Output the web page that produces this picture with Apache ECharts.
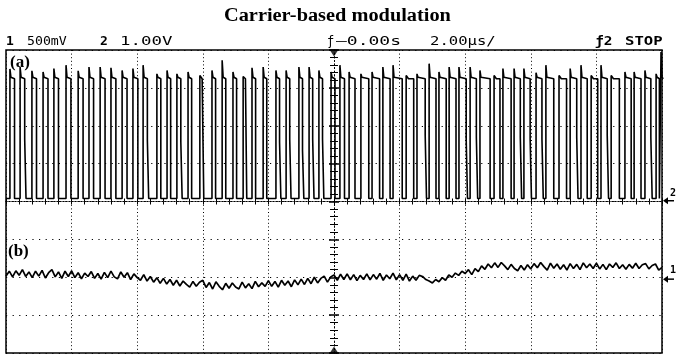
<!DOCTYPE html>
<html><head><meta charset="utf-8">
<script src="https://cdn.jsdelivr.net/npm/echarts@6/dist/echarts.min.js"></script>
<style>html,body{margin:0;padding:0;background:#fff}#c{width:676px;height:360px}</style>
</head><body><div id="c"></div>
<script>
// ---------- data ----------
const chartTitle = 'Carrier-based modulation';
const xRange = [-10, 10];      // time, µs (2 µs/div, 10 div)
const yRange = [-4, 4];        // divisions
const xStep = 2, yStep = 1;

// trace (a): PWM pulse train
const highLevel = 3.24, lowLevel = 0.08;
const riseT = [-9.88,-9.57,-9.21,-8.87,-8.54,-8.17,-7.80,-7.47,-7.13,-6.80,-6.46,-6.13,
  -5.82,-5.40,-5.09,-4.79,-4.45,-4.09,-3.72,-3.41,-3.08,-2.77,-2.50,-2.16,
  -1.77,-1.46,-1.07,-0.76,-0.46,-0.09,0.18,0.46,0.82,1.16,1.49,1.80,
  2.20,2.53,2.90,3.20,3.51,3.81,4.15,4.45,4.88,5.15,5.49,5.79,
  6.16,6.46,6.86,7.20,7.53,7.84,8.14,8.45,8.87,9.15,9.48,9.82,9.97];
const fallT = [-9.74,-9.43,-9.07,-8.72,-8.40,-8.02,-7.65,-7.33,-6.98,-6.65,-6.31,-5.98,
  -5.69,-5.28,-4.98,-4.67,-4.34,-3.97,-3.61,-3.30,-2.97,-2.66,-2.39,-2.05,
  -1.66,-1.35,-0.96,-0.65,-0.35,0.03,0.32,0.64,1.06,1.39,1.71,2.08,
  2.43,2.78,3.11,3.42,3.72,4.03,4.34,4.76,5.06,5.40,5.68,5.98,
  6.34,6.70,7.09,7.40,7.72,8.04,8.33,8.70,9.06,9.36,9.66,9.92,10.0];
const peakV = [3.50,3.55,3.45,3.42,3.51,3.60,3.45,3.55,3.55,3.53,3.46,3.51,
  3.60,3.37,3.46,3.37,3.42,3.33,3.46,3.73,3.42,3.30,3.53,3.55,
  3.46,3.46,3.55,3.55,3.46,3.42,3.60,3.42,3.37,3.42,3.55,3.60,
  3.33,3.37,3.64,3.42,3.55,3.55,3.55,3.46,3.33,3.51,3.51,3.51,
  3.40,3.60,3.33,3.51,3.60,3.33,3.60,3.33,3.42,3.42,3.46,3.37,3.95];
const stepV = [null,1.65,null,null,null,null,null,null,null,null,null,null,
  1.62,null,null,1.57,null,null,null,null,null,null,null,null,
  1.57,1.65,1.35,1.65,1.65,null,null,null,null,null,null,null,
  null,1.76,null,null,null,1.65,1.70,null,null,null,1.70,1.65,
  1.65,null,null,1.70,null,null,1.75,null,null,null,1.70,null,null];

// trace (b): noisy slow signal, sampled every 0.1 µs from -10 µs
const bStart = -10, bDt = 0.1;
const bValues = [
 -1.97,-1.84,-1.99,-1.83,-1.95,-1.80,-1.98,-1.86,-2.01,-1.84,
 -1.97,-1.82,-2.02,-1.88,-1.80,-1.99,-1.86,-2.03,-1.84,-1.98,
 -1.83,-2.01,-1.88,-2.04,-1.89,-1.98,-1.85,-2.03,-1.90,-2.05,
 -1.87,-2.01,-1.84,-1.99,-2.04,-1.86,-2.00,-1.88,-2.06,-1.91,
 -2.01,-2.08,-1.93,-2.10,-1.98,-2.13,-2.01,-2.16,-2.03,-2.18,
 -2.06,-2.21,-2.08,-2.23,-2.10,-2.19,-2.26,-2.11,-2.24,-2.13,
 -2.08,-2.27,-2.14,-2.31,-2.12,-2.24,-2.33,-2.16,-2.29,-2.15,
 -2.26,-2.31,-2.13,-2.28,-2.17,-2.30,-2.11,-2.25,-2.15,-2.24,
 -2.09,-2.24,-2.11,-2.26,-2.08,-2.21,-2.10,-2.25,-2.07,-2.20,
 -2.05,-2.19,-2.03,-2.17,-2.00,-2.15,-2.03,-1.97,-2.13,-1.99,
 -1.94,-2.08,-1.92,-2.06,-1.91,-2.07,-1.93,-2.09,-1.95,-2.06,
 -1.91,-2.07,-1.93,-2.05,-1.90,-2.08,-1.94,-2.04,-1.89,-2.07,
 -1.93,-2.08,-1.92,-2.10,-1.97,-2.08,-1.95,-1.98,-2.06,-2.10,
 -2.15,-2.06,-2.12,-2.01,-2.08,-1.94,-2.00,-1.89,-1.95,-1.84,
 -1.90,-1.80,-1.93,-1.77,-1.85,-1.70,-1.79,-1.65,-1.75,-1.62,
 -1.74,-1.61,-1.70,-1.80,-1.66,-1.77,-1.83,-1.69,-1.81,-1.67,
 -1.78,-1.64,-1.75,-1.61,-1.72,-1.81,-1.63,-1.76,-1.65,-1.79,
 -1.67,-1.81,-1.64,-1.77,-1.66,-1.80,-1.62,-1.75,-1.65,-1.77,
 -1.63,-1.78,-1.66,-1.80,-1.65,-1.74,-1.62,-1.77,-1.67,-1.79,
 -1.66,-1.76,-1.63,-1.77,-1.67,-1.64,-1.78,-1.69,-1.65,-1.81,
 -1.74];

// ground markers on the right edge
const gnd2Level = 0.02, gnd1Level = -2.05;

// ---------- build series data ----------
const aData = [[xRange[0], lowLevel]];
for (let i = 0; i < riseT.length; i++) {
  const r = riseT[i], f = fallT[i];
  aData.push([r, lowLevel], [r, peakV[i]], [r + 0.03, highLevel + 0.04], [r + 0.07, highLevel]);
  if (f >= xRange[1]) { aData.push([xRange[1], highLevel]); continue; }
  aData.push([f, highLevel]);
  if (stepV[i] != null) aData.push([f, stepV[i]], [f + 0.04, stepV[i]], [f + 0.04, lowLevel]);
  else aData.push([f, lowLevel]);
}
const bData = bValues.map((v, i) => [+(bStart + i * bDt).toFixed(2), v]);

const chart = echarts.init(document.getElementById('c'), null, {renderer: 'canvas'});
const K = '#000';
function xAx(pos) {
  return {type: 'value', min: xRange[0], max: xRange[1], interval: xStep, position: pos,
    axisLine: {show: true, onZero: true, lineStyle: {color: K, width: 1, type: [1, 2]}},
    axisTick: {show: true, length: 3, lineStyle: {color: K, width: 1}},
    minorTick: {show: true, splitNumber: 5, length: 3, lineStyle: {color: K, width: 1}},
    axisLabel: {show: false},
    splitLine: {show: pos === 'bottom', lineStyle: {color: K, width: 1, type: [1, 2.6]}}};
}
function yAx(pos) {
  return {type: 'value', min: yRange[0], max: yRange[1], interval: yStep, position: pos,
    axisLine: {show: true, onZero: true, lineStyle: {color: K, width: 1, type: [1, 2.6]}},
    axisTick: {show: true, length: 5, lineStyle: {color: K, width: 1.5}},
    minorTick: {show: true, splitNumber: 5, length: 4, lineStyle: {color: K, width: 1}},
    axisLabel: {show: false},
    splitLine: {show: pos === 'left', lineStyle: {color: K, width: 1, type: [1.2, 5.4]}}};
}
chart.setOption({
  animation: false,
  backgroundColor: '#fff',
  grid: {left: 6, right: 14, top: 50, bottom: 7, show: true, borderColor: K, borderWidth: 1.5, backgroundColor: 'transparent'},
  xAxis: [xAx('bottom'), xAx('top')],
  yAxis: [yAx('left'), yAx('right')],
  series: [
    {type: 'line', name: '(a)', data: aData, showSymbol: false, clip: true,
     lineStyle: {color: K, width: 1.6}},
    {type: 'line', name: '(b)', data: bData, showSymbol: false, clip: true,
     lineStyle: {color: K, width: 1.7}},
    {type: 'scatter', data: [
       {value: [0, yRange[1]], symbolRotate: 180, symbolOffset: [0, 3]},
       {value: [0, yRange[0]], symbolRotate: 0, symbolOffset: [0, -3]}],
     symbol: 'triangle', symbolSize: [9, 7], itemStyle: {color: K}, silent: true}
  ]
});

const yG2 = chart.convertToPixel({gridIndex: 0}, [0, gnd2Level])[1];
const yG1 = chart.convertToPixel({gridIndex: 0}, [0, gnd1Level])[1];
const mono = '"DejaVu Sans Mono", monospace';
function txt(text, x, y, font, sx) {
  return {type: 'text', x: x, y: y, scaleX: sx || 1, silent: true,
    style: {text: text, font: font, fill: K, textAlign: 'left', textVerticalAlign: 'middle', verticalAlign: 'middle'}};
}
function arrow(y) {
  return [
    {type: 'polygon', silent: true, shape: {points: [[663, y], [668, y - 3.5], [668, y + 3.5]]}, style: {fill: K}},
    {type: 'line', silent: true, shape: {x1: 666, y1: y, x2: 674, y2: y}, style: {stroke: K, lineWidth: 1.5}}
  ];
}
chart.setOption({graphic: [
  {type: 'text', x: 224, y: 16, scaleX: 1.13, silent: true,
   style: {text: chartTitle, font: 'bold 18px "Liberation Serif", serif', fill: K,
           textAlign: 'left', textVerticalAlign: 'middle', verticalAlign: 'middle'}},
  txt('1', 6, 42, 'bold 13px ' + mono, 1.0),
  txt('500mV', 27, 42, '12px ' + mono, 1.1),
  txt('2', 100, 42, 'bold 13px ' + mono, 1.0),
  txt('1.00V', 120, 42, '12px ' + mono, 1.45),
  txt('ƒ', 327, 42, '12px ' + mono, 1.0),
  txt('—0.00s', 336, 42, '12px ' + mono, 1.5),
  txt('2.00µs/', 430, 42, '12px ' + mono, 1.3),
  txt('ƒ2', 595, 42, 'bold 12px ' + mono, 1.2),
  txt('STOP', 625, 42, 'bold 12px ' + mono, 1.3),
  txt('(a)', 10, 63, 'bold 17px "Liberation Serif", serif', 1),
  txt('(b)', 8, 252, 'bold 17px "Liberation Serif", serif', 1),
  ...arrow(yG2),
  txt('2', 670, yG2 - 7, 'bold 10px ' + mono, 1),
  ...arrow(yG1),
  txt('1', 670, yG1 - 9, 'bold 10px ' + mono, 1)
]});
</script></body></html>
